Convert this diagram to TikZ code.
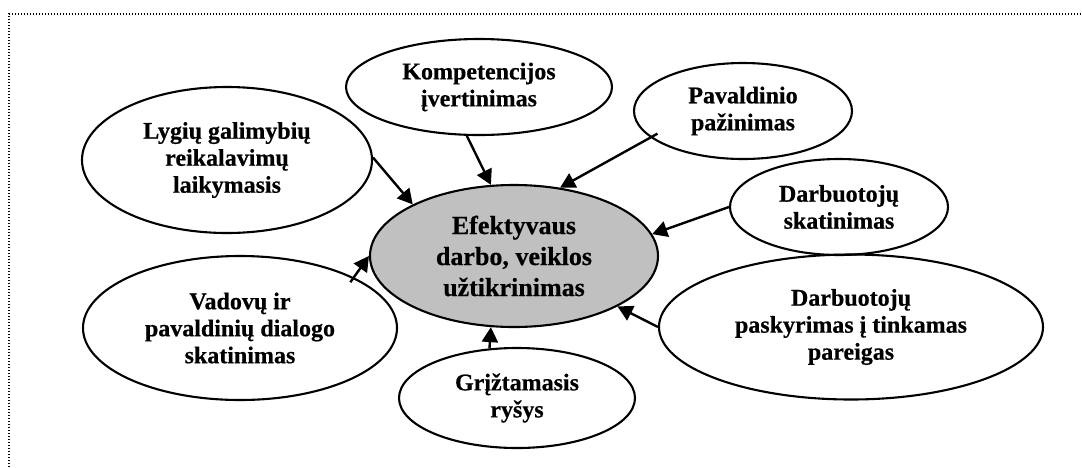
\documentclass[tikz,border=0pt]{standalone}
\usepackage{fontspec}
\setmainfont{Liberation Serif}[FakeBold=0.5]
\usetikzlibrary{shapes.geometric,arrows.meta}
\begin{document}
\begin{tikzpicture}[x=1pt,y=-1pt,
  bub/.style={ellipse,draw,line width=2.1pt,inner sep=0pt,align=center,
    font=\fontsize{24pt}{27pt}\selectfont\bfseries},
  hub/.style={bub,fill=hubgray,font=\fontsize{26pt}{31pt}\selectfont\bfseries},
  arr/.style={line width=2.4pt,-{Triangle[length=15pt,width=16pt]}}]
\definecolor{hubgray}{RGB}{192,192,192}
\useasboundingbox (0,0) rectangle (1082,467);
% dotted frame (top and left edges)
\draw[line width=1.4pt,dash pattern=on 1.4pt off 1.6pt] (9,467) -- (9,14) -- (1082,14);

% central ellipse
\node[hub,minimum width=288pt,minimum height=142pt] (ctr) at (514,256)
  {Efektyvaus\\darbo, veiklos\\užtikrinimas};

% surrounding ellipses
\node[bub,minimum width=266pt,minimum height=96pt] (komp) at (479,87)
  {Kompetencijos\\įvertinimas};
\node[bub,minimum width=218pt,minimum height=96pt] (pav) at (743,111)
  {Pavaldinio\\pažinimas};
\node[bub,minimum width=218pt,minimum height=96pt] (dsk) at (839,207)
  {Darbuotojų\\skatinimas};
\node[bub,minimum width=384pt,minimum height=145pt] (pask) at (851,327)
  {Darbuotojų\\paskyrimas į tinkamas\\pareigas};
\node[bub,minimum width=290pt,minimum height=146pt] (lyg) at (227,160)
  {Lygių galimybių\\reikalavimų\\laikymasis};
\node[bub,minimum width=314pt,minimum height=144pt] (vad) at (240,328)
  {Vadovų ir\\pavaldinių dialogo\\skatinimas};
\node[bub,minimum width=236pt,minimum height=100pt] (grz) at (517,398)
  {Grįžtamasis\\ryšys};

% connectors
\draw[arr] (lyg.1) -- (ctr.153);
\draw[arr] (komp.256) -- (ctr.108);
\draw[arr,shorten <=-8pt] (pav.196) -- (ctr.56);
\draw[arr] (dsk.west) -- (ctr.9);
\draw[arr] (pask.west) -- (ctr.334);
\draw[arr,shorten <=-6pt] (vad.24) -- (ctr.west);
\draw[arr] (grz.119) -- (ctr.252);
\end{tikzpicture}
\end{document}
